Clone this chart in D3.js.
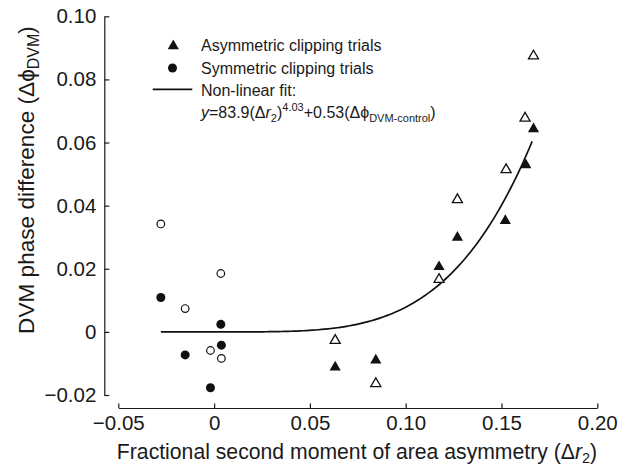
<!DOCTYPE html>
<html>
<head>
<meta charset="utf-8">
<script src="https://cdn.jsdelivr.net/npm/d3@7"></script>
<style>
  body { margin: 0; background: #fff; }
  svg { display: block; font-family: "Liberation Sans", Arial, sans-serif; }
  .axis text { font-size: 20.5px; fill: #1a1a1a; }
  .axis path, .axis line { stroke: #1a1a1a; stroke-width: 1.2; }
</style>
</head>
<body>
<svg id="chart" width="628" height="467"></svg>
<script>
// Data
let asymX = [0.0632, 0.0844, 0.1174, 0.127, 0.152, 0.1627, 0.1667]
let asymY = [-0.0112, -0.009, 0.0206, 0.0299, 0.0352, 0.0529, 0.0643]
let asymOpenX = [0.0632, 0.0844, 0.1174, 0.127, 0.1524, 0.1623, 0.1667]
let asymOpenY = [-0.0027, -0.0164, 0.0166, 0.0419, 0.0514, 0.0677, 0.0874]
let symX = [-0.0278, -0.0151, -0.0019, 0.0035, 0.0038]
let symY = [0.0109, -0.0073, -0.0177, 0.0024, -0.0042]
let symOpenX = [-0.0278, -0.0151, -0.0019, 0.0035, 0.0038]
let symOpenY = [0.0342, 0.0074, -0.0059, 0.0185, -0.0084]
let xTicks = [-0.05, 0, 0.05, 0.10, 0.15, 0.20]
let yTicks = [-0.02, 0, 0.02, 0.04, 0.06, 0.08, 0.10]
// fit from the legend: y = 83.9 (dr2)^4.03 (+ control offset ~0)
let fitA = 83.9, fitB = 4.03
let fitRange = [-0.0278, 0.166]

let zip = (xs, ys) => xs.map((x, i) => ({x: x, y: ys[i]}))

let svg = d3.select("#chart")
let x = d3.scaleLinear().domain([-0.05, 0.20]).range([118.3, 597.3])
let y = d3.scaleLinear().domain([-0.02, 0.10]).range([395, 16.3])

let fmt = v => v === 0 ? "0" : d3.format(".2f")(v)

// Axes
svg.append("g").attr("class", "axis")
  .attr("transform", "translate(0,408)")
  .call(d3.axisBottom(x).tickValues(xTicks).tickFormat(fmt)
    .tickSizeInner(-4.5).tickSizeOuter(0).tickPadding(7))
svg.append("g").attr("class", "axis")
  .attr("transform", "translate(104.3,0)")
  .call(d3.axisLeft(y).tickValues(yTicks).tickFormat(fmt)
    .tickSizeInner(-5).tickSizeOuter(0).tickPadding(8))

// Axis titles
let xt = svg.append("text")
  .attr("x", 357).attr("y", 459)
  .attr("text-anchor", "middle")
  .style("font-size", "21.2px").style("fill", "#1a1a1a")
xt.append("tspan").text("Fractional second moment of area asymmetry (\u0394")
xt.append("tspan").style("font-style", "italic").text("r")
xt.append("tspan").attr("dy", 4).style("font-size", "14.5px").text("2")
xt.append("tspan").attr("dy", -4).text(")")

let yt = svg.append("text")
  .attr("transform", "translate(33.5,180) rotate(-90)")
  .attr("text-anchor", "middle")
  .style("font-size", "22.6px").style("fill", "#1a1a1a")
yt.append("tspan").text("DVM phase difference (\u0394\u03d5")
yt.append("tspan").attr("dy", 5).style("font-size", "16px").text("DVM")
yt.append("tspan").attr("dy", -5).text(")")

// Fit curve
let fitPts = d3.range(0, 121).map(i => {
  let v = fitRange[0] + (fitRange[1] - fitRange[0]) * i / 120
  return {x: v, y: fitA * Math.pow(Math.max(v, 0), fitB)}
})
svg.append("path")
  .attr("d", d3.line().x(d => x(d.x)).y(d => y(d.y))(fitPts))
  .attr("fill", "none").attr("stroke", "#111").attr("stroke-width", 1.7)

// Markers
let tri = d3.symbol().type(d3.symbolTriangle)
svg.selectAll(".tOpen").data(zip(asymOpenX, asymOpenY)).enter().append("path")
  .attr("d", tri.size(44)())
  .attr("transform", d => `translate(${x(d.x)},${y(d.y)})`)
  .attr("fill", "#fff").attr("stroke", "#111").attr("stroke-width", 1.3)
svg.selectAll(".tFill").data(zip(asymX, asymY)).enter().append("path")
  .attr("d", tri.size(54)())
  .attr("transform", d => `translate(${x(d.x)},${y(d.y)})`)
  .attr("fill", "#111")
svg.selectAll(".cOpen").data(zip(symOpenX, symOpenY)).enter().append("circle")
  .attr("cx", d => x(d.x)).attr("cy", d => y(d.y)).attr("r", 3.8)
  .attr("fill", "#fff").attr("stroke", "#111").attr("stroke-width", 1.2)
svg.selectAll(".cFill").data(zip(symX, symY)).enter().append("circle")
  .attr("cx", d => x(d.x)).attr("cy", d => y(d.y)).attr("r", 4.5)
  .attr("fill", "#111")

// Legend
let lg = svg.append("g").style("font-size", "16px").style("fill", "#1a1a1a")
lg.append("path").attr("d", tri.size(54)()).attr("transform", "translate(173.3,46)").attr("fill", "#111")
lg.append("circle").attr("cx", 172.5).attr("cy", 68).attr("r", 4.5).attr("fill", "#111")
lg.append("line").attr("x1", 152.7).attr("x2", 192.3).attr("y1", 89.3).attr("y2", 89.3)
  .attr("stroke", "#111").attr("stroke-width", 1.7)
lg.append("text").attr("x", 201).attr("y", 51).text("Asymmetric clipping trials")
lg.append("text").attr("x", 201).attr("y", 73.5).text("Symmetric clipping trials")
lg.append("text").attr("x", 201).attr("y", 95.5).text("Non-linear fit:")
let f = lg.append("text").attr("x", 201).attr("y", 117.5)
f.append("tspan").style("font-style", "italic").text("y")
f.append("tspan").text("=83.9(\u0394")
f.append("tspan").style("font-style", "italic").text("r")
f.append("tspan").attr("dy", 4).style("font-size", "11px").text("2")
f.append("tspan").attr("dy", -4).text(")")
f.append("tspan").attr("dy", -7).style("font-size", "11px").text("4.03")
f.append("tspan").attr("dy", 7).text("+0.53(\u0394\u03d5")
f.append("tspan").attr("dy", 4).style("font-size", "11px").text("DVM-control")
f.append("tspan").attr("dy", -4).text(")")
</script>
</body>
</html>
